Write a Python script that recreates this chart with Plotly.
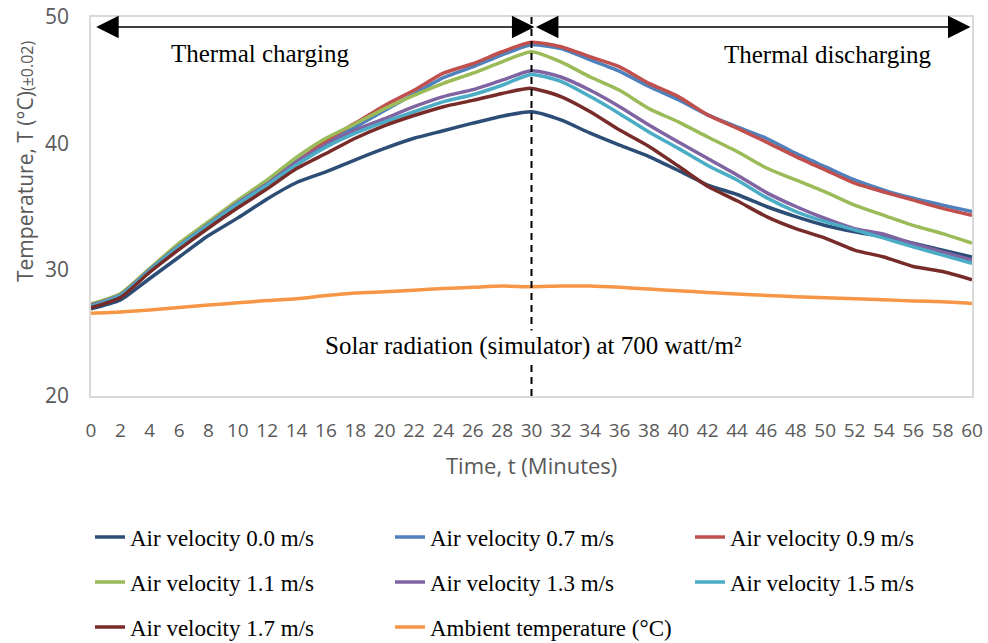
import plotly.graph_objects as go

time_min = list(range(0, 61, 2))

v00 = [26.9, 27.6, 29.3, 31.0, 32.7, 34.1, 35.6, 36.9, 37.75, 38.7, 39.6, 40.4, 41.0, 41.6, 42.15, 42.5,
       41.85, 40.8, 39.85, 38.95, 37.85, 36.7, 35.95, 35.0, 34.2, 33.5, 33.0, 32.6, 32.1, 31.55, 31.0]
v07 = [27.2, 28.0, 30.0, 31.9, 33.6, 35.3, 36.9, 38.6, 40.0, 41.3, 42.6, 43.9, 45.2, 46.05, 47.0, 47.8,
       47.5, 46.6, 45.7, 44.5, 43.45, 42.25, 41.3, 40.4, 39.2, 38.15, 37.1, 36.3, 35.65, 35.1, 34.6]
v09 = [27.1, 27.9, 29.9, 31.8, 33.5, 35.2, 36.8, 38.5, 40.2, 41.6, 43.0, 44.2, 45.55, 46.3, 47.25, 48.0,
       47.65, 46.85, 46.05, 44.75, 43.7, 42.25, 41.2, 40.1, 38.95, 37.9, 36.85, 36.15, 35.5, 34.85, 34.3]
v11 = [27.3, 28.1, 30.1, 32.1, 33.8, 35.5, 37.1, 38.9, 40.4, 41.55, 42.75, 43.8, 44.75, 45.55, 46.45, 47.25,
       46.45, 45.25, 44.2, 42.75, 41.7, 40.5, 39.35, 38.05, 37.1, 36.15, 35.1, 34.3, 33.5, 32.85, 32.1]
v13 = [27.2, 28.0, 30.0, 31.9, 33.6, 35.3, 36.8, 38.5, 39.9, 41.05, 41.95, 42.9, 43.7, 44.25, 45.0, 45.75,
       45.25, 44.2, 42.9, 41.45, 40.1, 38.8, 37.5, 36.1, 35.0, 34.05, 33.25, 32.8, 32.05, 31.4, 30.75]
v15 = [27.1, 27.95, 29.95, 31.85, 33.55, 35.2, 36.7, 38.3, 39.7, 40.8, 41.7, 42.5, 43.3, 43.85, 44.6, 45.45,
       44.9, 43.7, 42.35, 40.9, 39.6, 38.25, 37.1, 35.7, 34.6, 33.8, 33.15, 32.5, 31.8, 31.15, 30.5]
v17 = [27.0, 27.8, 29.8, 31.6, 33.3, 34.9, 36.4, 38.0, 39.2, 40.4, 41.4, 42.2, 42.9, 43.4, 43.95, 44.35,
       43.7, 42.5, 41.05, 39.75, 38.2, 36.6, 35.45, 34.2, 33.25, 32.5, 31.55, 31.0, 30.25, 29.85, 29.2]
ambient = [26.55, 26.65, 26.8, 27.0, 27.2, 27.38, 27.55, 27.7, 27.95, 28.15, 28.25, 28.38, 28.5, 28.6, 28.7, 28.65,
           28.7, 28.7, 28.6, 28.46, 28.33, 28.2, 28.07, 27.96, 27.86, 27.78, 27.7, 27.62, 27.52, 27.46, 27.33]

series_names = ["Air velocity 0.0 m/s", "Air velocity 0.7 m/s", "Air velocity 0.9 m/s",
                "Air velocity 1.1 m/s", "Air velocity 1.3 m/s", "Air velocity 1.5 m/s",
                "Air velocity 1.7 m/s", "Ambient temperature (\u00b0C)"]
series_values = [v00, v07, v09, v11, v13, v15, v17, ambient]
series_colors = ["#2C4D75", "#4F81BD", "#C0504D", "#9BBB59", "#8064A2", "#4BACC6", "#772C2A", "#F79646"]
series_legend = ["legend", "legend", "legend", "legend2", "legend2", "legend2", "legend3", "legend3"]

x_ticks = list(range(0, 61, 2))

fig = go.Figure()
for name, vals, col, lg in zip(series_names, series_values, series_colors, series_legend):
    fig.add_trace(go.Scatter(x=time_min, y=vals, mode="lines", name=name, legend=lg,
                             line=dict(color=col, width=3.5, shape="spline", smoothing=0.6)))

gray = "#595959"
W, H = 988, 643
L, R, T, B = 91, 16, 17, 247
PW, PH = W - L - R, H - T - B

fig.update_layout(
    width=W, height=H,
    margin=dict(l=L, r=R, t=T, b=B, autoexpand=False),
    plot_bgcolor="white", paper_bgcolor="white",
    showlegend=True,
    xaxis=dict(range=[0, 60], tickvals=x_ticks, showgrid=False, zeroline=False,
               showline=True, linecolor="#d9d9d9", linewidth=1.5, mirror=True, ticks="",
               tickfont=dict(family="Open Sans", size=19, color=gray), ticklabelstandoff=16),
    yaxis=dict(range=[20, 50], dtick=10, showgrid=False, zeroline=False,
               showline=True, linecolor="#d9d9d9", linewidth=1.5, mirror=True, ticks="",
               tickfont=dict(family="Open Sans", size=21, color=gray), ticklabelstandoff=16),
)

legend_common = dict(orientation="h", xref="paper", yref="paper", xanchor="left", yanchor="middle",
                     x=(90 - L) / PW, entrywidth=255, entrywidthmode="pixels", bgcolor="rgba(0,0,0,0)",
                     font=dict(family="Liberation Serif", size=23, color="black"))
fig.update_layout(
    legend=dict(**legend_common, y=(H - B - 537) / PH),
    legend2=dict(**legend_common, y=(H - B - 582) / PH),
    legend3=dict(**legend_common, y=(H - B - 627) / PH),
)

# vertical dashed line at t = 30
fig.add_shape(type="line", xref="x", yref="paper", x0=30, x1=30, y0=0, y1=1,
              line=dict(color="black", width=2, dash="7px,5px"), layer="above")

# double arrows
for xa, xb in [(0.25, 30.2), (30.2, 59.9)]:
    fig.add_annotation(x=xb, y=49.2, ax=xa, ay=49.2, xref="x", yref="y", axref="x", ayref="y",
                       text="", showarrow=True, arrowside="end+start", arrowhead=2,
                       arrowsize=3, arrowwidth=1.5, arrowcolor="black")

serif = "Liberation Serif"
fig.add_annotation(x=11.5, y=47.15, xref="x", yref="y", text="Thermal charging", showarrow=False,
                   font=dict(family=serif, size=25, color="black"))
fig.add_annotation(x=50.2, y=47.0, xref="x", yref="y", text="Thermal discharging", showarrow=False,
                   font=dict(family=serif, size=25, color="black"))
fig.add_annotation(x=30.1, y=23.95, xref="x", yref="y",
                   text="Solar radiation (simulator) at 700 watt/m\u00b2", showarrow=False,
                   bgcolor="white", font=dict(family=serif, size=25, color="black"))

# axis titles
fig.add_annotation(xref="paper", yref="paper", x=(25 - L) / PW, y=(H - B - 162) / PH,
                   text='Temperature, T (\u00b0C)<span style="font-size:16px">(\u00b10.02)</span>',
                   textangle=-90, showarrow=False, xanchor="center", yanchor="middle",
                   font=dict(family="Open Sans", size=21, color=gray))
fig.add_annotation(xref="paper", yref="paper", x=0.5, y=(H - B - 465) / PH,
                   text="Time, t (Minutes)", showarrow=False, xanchor="center", yanchor="middle",
                   font=dict(family="Open Sans", size=22, color=gray))

fig.write_html("out.html", config={"displayModeBar": False},
               post_script="document.body.style.margin='0';")
